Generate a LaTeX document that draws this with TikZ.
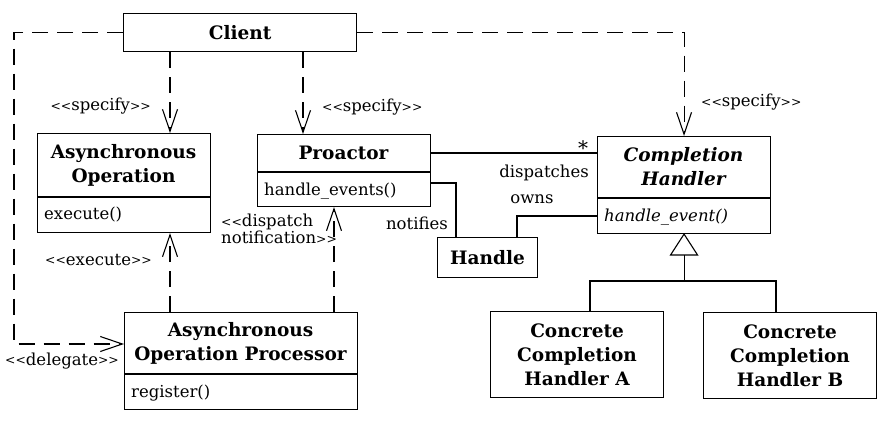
\documentclass[tikz,border=0pt]{standalone}
\usepackage{fontspec}
\usepackage{graphicx}
\setmainfont{DejaVu Serif}
\usetikzlibrary{arrows.meta}
\newcommand{\ltc}{\raisebox{0.6pt}{\scalebox{0.75}{<}}}
\newcommand{\gtc}{\raisebox{0.6pt}{\scalebox{0.75}{>}}}
\newcommand{\stereo}[1]{\ltc\ltc#1\gtc\gtc}
\tikzset{
  box/.style={draw, line width=1.1pt, inner sep=0pt, anchor=north west},
  ttl/.style={font=\bfseries\fontsize{18.5}{24}\selectfont, align=center, inner sep=0pt},
  mth/.style={font=\fontsize{16.5}{18}\selectfont, anchor=base west, inner sep=0pt},
  lbl/.style={font=\fontsize{16.5}{17}\selectfont, inner sep=0pt},
  dep/.style={line width=1.1pt, dash pattern=on 16pt off 9pt,
    -{Straight Barb[length=22pt,width=15pt,line width=1.1pt]}},
  assoc/.style={line width=1.1pt},
}
\begin{document}
\begin{tikzpicture}[x=1pt,y=-1pt]
\useasboundingbox (0,0) rectangle (883,425);
% boxes
\node[box, minimum width=233pt, minimum height=38pt] (client) at (123,13) {};
\node[ttl] at (client.center) {Client};

\node[box, minimum width=173pt, minimum height=99pt] (ao) at (37,133) {};
\draw[assoc] (ao.west |- 0,197) -- (ao.east |- 0,197);
\node[ttl] at (123.5,165) {Asynchronous\\Operation};
\node[mth] at (44,219) {execute()};

\node[box, minimum width=173pt, minimum height=72pt] (pro) at (257,134) {};
\draw[assoc] (pro.west |- 0,172) -- (pro.east |- 0,172);
\node[ttl] at (343.5,153) {Proactor};
\node[mth] at (264,195) {handle\_events()};

\node[box, minimum width=173pt, minimum height=97pt] (ch) at (597,136) {};
\draw[assoc] (ch.west |- 0,198) -- (ch.east |- 0,198);
\node[ttl, font=\bfseries\itshape\fontsize{18.5}{24}\selectfont] at (683.5,167) {Completion\\Handler};
\node[mth, font=\itshape\fontsize{16.5}{18}\selectfont] at (604,221) {handle\_event()};

\node[box, minimum width=100pt, minimum height=40pt] (hdl) at (437,237) {};
\node[ttl] at (hdl.center) {Handle};

\node[box, minimum width=233pt, minimum height=97pt] (aop) at (124,312) {};
\draw[assoc] (aop.west |- 0,374) -- (aop.east |- 0,374);
\node[ttl] at (240.5,343) {Asynchronous\\Operation Processor};
\node[mth] at (131,397) {register()};

\node[box, minimum width=173pt, minimum height=86pt] (ccha) at (490,311) {};
\node[ttl] at (ccha.center) {Concrete\\Completion\\Handler A};

\node[box, minimum width=173pt, minimum height=86pt] (cchb) at (703,312) {};
\node[ttl] at (cchb.center) {Concrete\\Completion\\Handler B};

% helper coordinates
\coordinate (xa) at (170,0);
\coordinate (xp) at (303,0);
\coordinate (xd) at (334,0);
\coordinate (dl) at (14,344);
\coordinate (yd) at (0,153);
\coordinate (yn) at (0,183);
\coordinate (xn) at (456,0);
\coordinate (yo) at (0,216);
\coordinate (xo) at (517,0);
\coordinate (gb) at (0,255);
\coordinate (gh) at (0,281);
\coordinate (xga) at (590,0);
\coordinate (xgb) at (776,0);

% dependencies
\draw[dep] (client.south -| xa) -- (ao.north -| xa);
\draw[dep] (client.south -| xp) -- (pro.north -| xp);
\draw[dep] (client.west) -| (dl) -- (aop.west |- dl);
\draw[dep] (client.east) -| (ch.north);
\draw[dep] (aop.north -| xa) -- (ao.south -| xa);
\draw[dep] (aop.north -| xd) -- (pro.south -| xd);

% associations
\draw[assoc] (pro.east |- yd) -- (ch.west |- yd);
\draw[assoc] (pro.east |- yn) -| (hdl.north -| xn);
\draw[assoc] (ch.west |- yo) -| (hdl.north -| xo);

% generalization
\draw[assoc, line join=miter] (ch.south) -- ([xshift=-13.5pt]ch.south |- gb) -- ([xshift=13.5pt]ch.south |- gb) -- cycle;
\draw[assoc] (ch.south |- gb) -- (ch.south |- gh);
\draw[assoc] (ccha.north -| xga) |- (ch.south |- gh) -| (cchb.north -| xgb);

% labels
\node[lbl, anchor=base east] at (151,111) {\stereo{specify}};
\node[lbl, anchor=base west] at (322,112) {\stereo{specify}};
\node[lbl, anchor=base west] at (701,107) {\stereo{specify}};
\node[lbl, anchor=base east] at (152,265) {\stereo{execute}};
\node[lbl, anchor=base west] at (5,365) {\stereo{delegate}};
\node[lbl, anchor=north west, align=left, font=\fontsize{16.5}{17}\selectfont] at (221,214) {\ltc\ltc dispatch\\notification\gtc\gtc};
\node[lbl, anchor=base east] at (589,177) {dispatches};
\node[lbl, anchor=base] at (532,203) {owns};
\node[lbl, anchor=base east] at (448,229) {notifies};
\node[lbl, font=\fontsize{20}{20}\selectfont] at (583,148) {*};
\end{tikzpicture}
\end{document}
